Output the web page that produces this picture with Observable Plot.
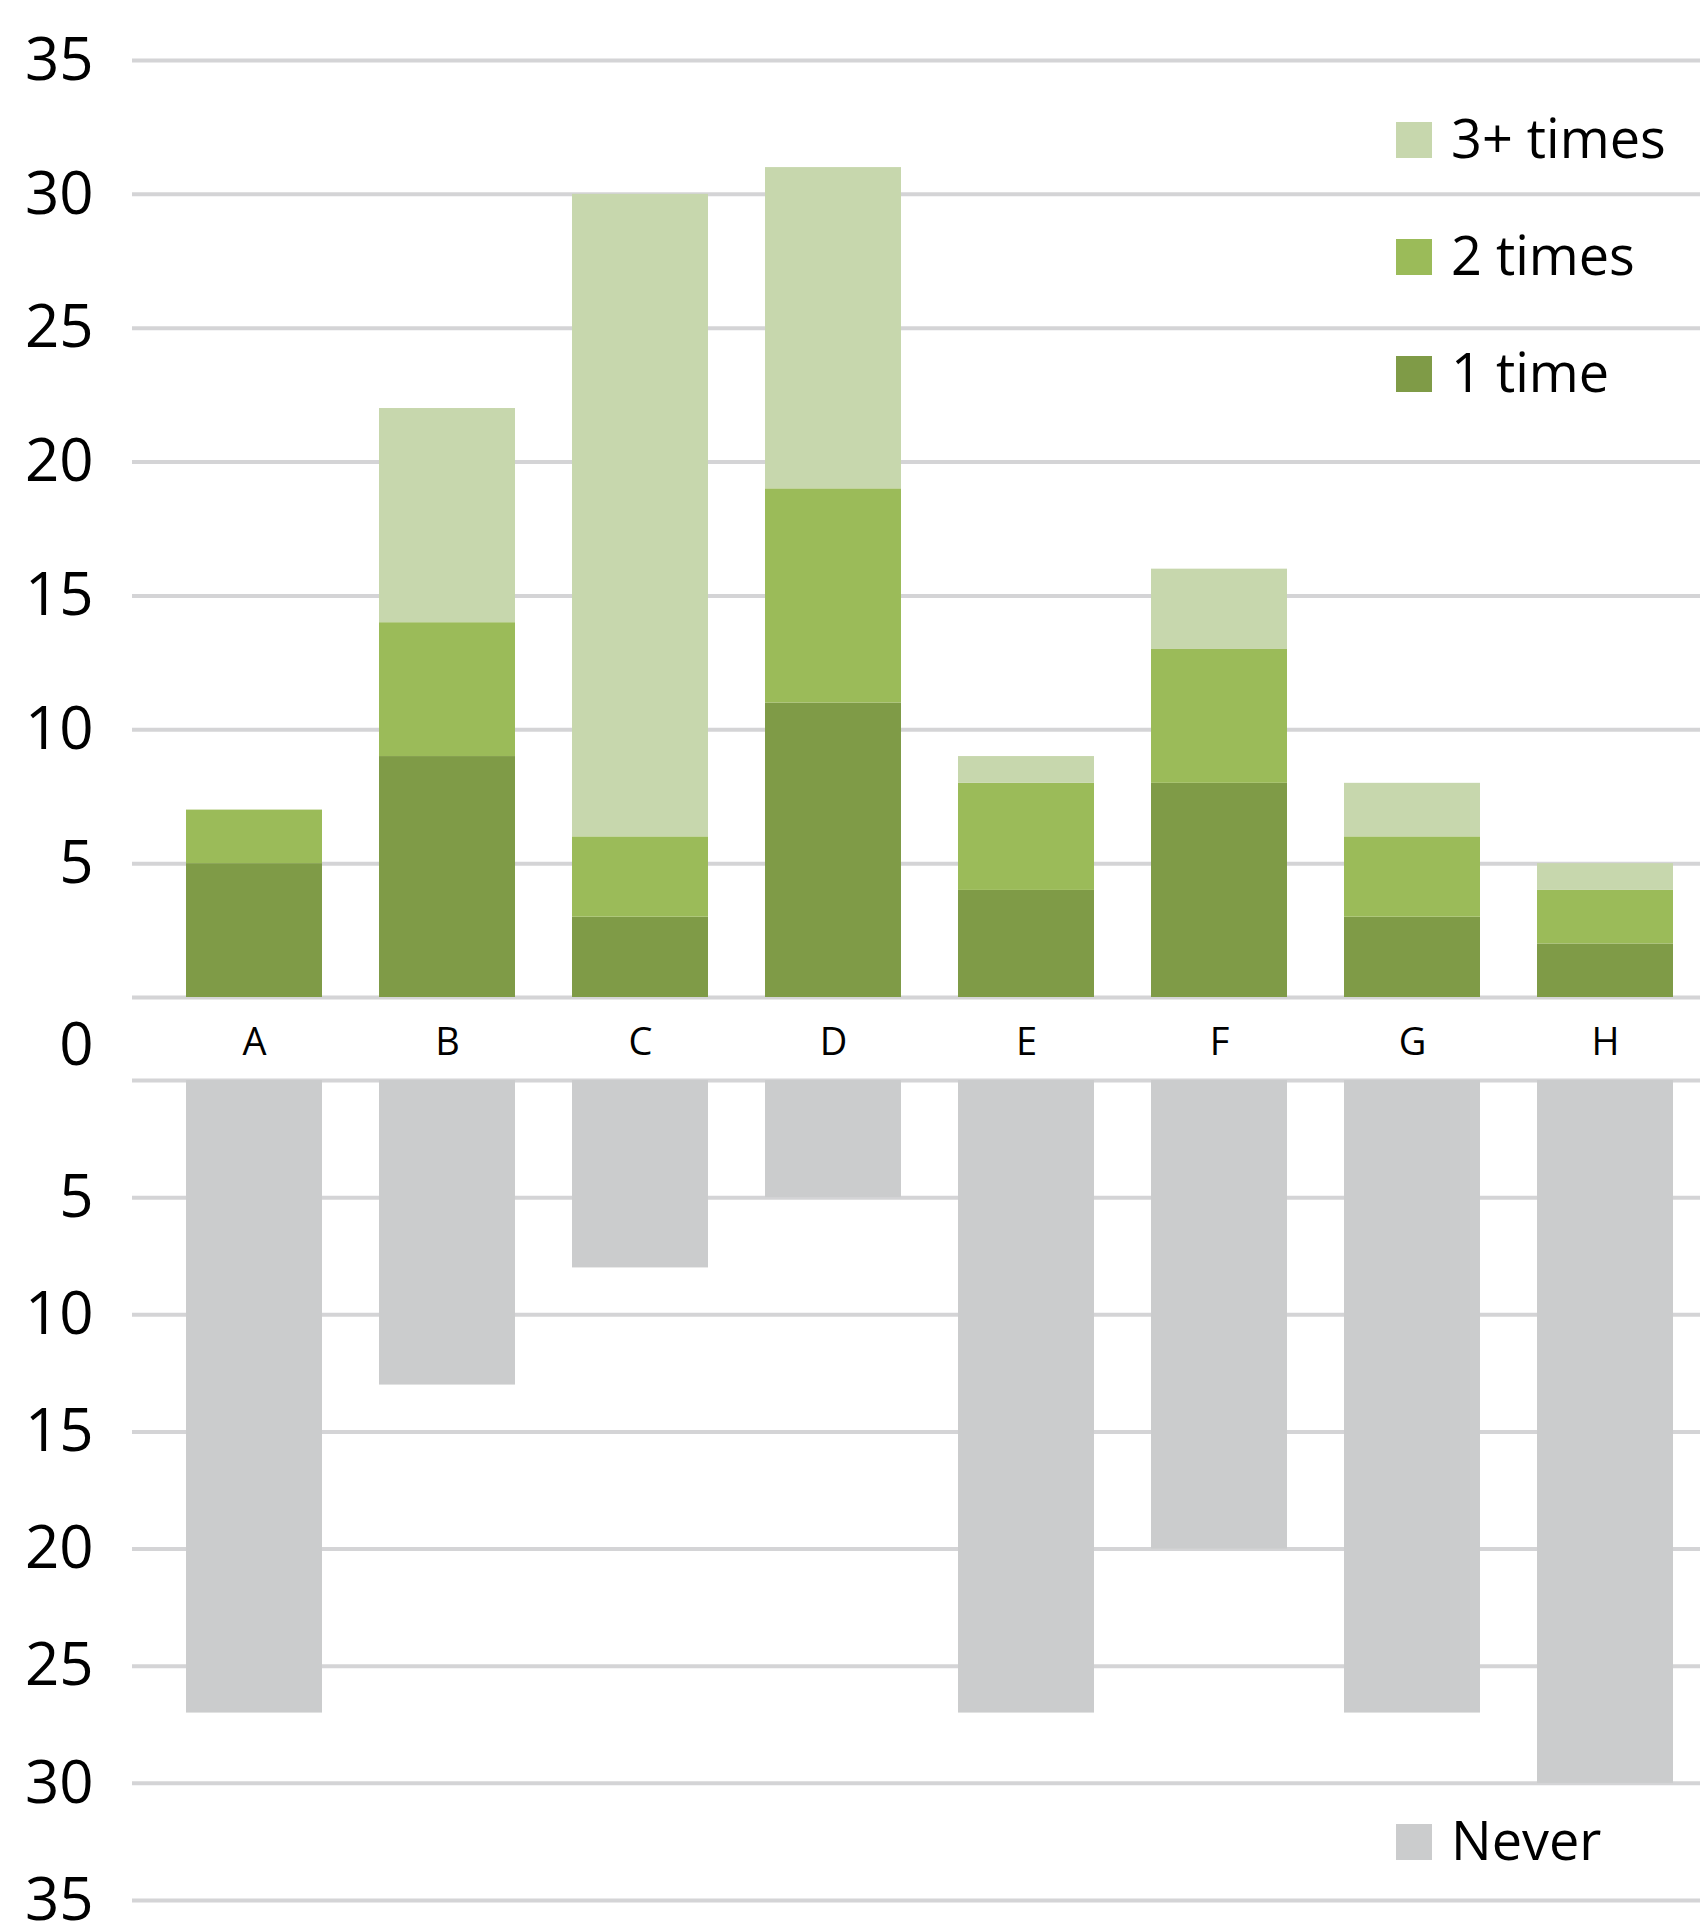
<!DOCTYPE html>
<html>
<head>
<meta charset="utf-8">
<script src="https://cdn.jsdelivr.net/npm/d3@7"></script>
<script src="https://cdn.jsdelivr.net/npm/@observablehq/plot@0.6"></script>
<style>
  html, body { margin: 0; padding: 0; background: #fff; }
  #wrap { position: relative; width: 1700px; height: 1921px; overflow: hidden; font-family: "Open Sans", sans-serif; }
  #top, #bottom { position: absolute; left: 0; }
  #top { top: 0; }
  #bottom { top: 1000px; }
  .legend { position: absolute; left: 1396px; }
  .row { display: flex; align-items: center; height: 36px; margin-bottom: 81px; }
  .sw { width: 36px; height: 36px; margin-right: 19px; flex: none; }
  .lab { font-size: 54px; line-height: 1; color: #000; white-space: nowrap; position: relative; top: -3px; }
</style>
</head>
<body>
<div id="wrap">
  <div id="top"></div>
  <div id="bottom"></div>
  <div class="legend" id="legTop" style="top:122px"></div>
  <div class="legend" id="legBottom" style="top:1824px"></div>
</div>
<script>
// ---- data ----
const categories = ["A", "B", "C", "D", "E", "F", "G", "H"];
const seriesNames = ["1 time", "2 times", "3+ times"];
const seriesColors = ["#7f9b47", "#9bbb59", "#c7d7ad"];
const oneTime   = [5, 9, 3, 11, 4, 8, 3, 2];
const twoTimes  = [2, 5, 3, 8, 4, 5, 3, 2];
const threePlus = [0, 8, 24, 12, 1, 3, 2, 1];
const neverName = "Never";
const neverColor = "#cbcccd";
const never     = [27, 13, 8, 5, 27, 20, 27, 30];
const yTicks = [0, 5, 10, 15, 20, 25, 30, 35];

const gridColor = "#d4d4d6";
const font = "'Open Sans', sans-serif";

const seriesValues = [oneTime, twoTimes, threePlus];
const stackedRows = categories.flatMap((c, i) =>
  seriesNames.map((s, k) => ({cat: c, series: s, value: seriesValues[k][i]}))
);
const neverRows = categories.map((c, i) => ({cat: c, value: never[i]}));

const xScale = {domain: categories, paddingInner: 0.296, paddingOuter: 0.148, insetLeft: 23, insetRight: -3};

const topPlot = Plot.plot({
  width: 1700,
  height: 1000,
  marginLeft: 132,
  marginRight: 0,
  marginTop: 60,
  marginBottom: 3,
  style: {fontFamily: font, color: "#000", background: "transparent", overflow: "visible"},
  x: {...xScale, axis: null},
  y: {domain: [0, 35], axis: null},
  color: {domain: seriesNames, range: seriesColors},
  marks: [
    Plot.ruleY(yTicks, {stroke: gridColor, strokeWidth: 4}),
    Plot.barY(stackedRows, {x: "cat", y: "value", fill: "series"}),
    Plot.axisY(yTicks.filter(d => d > 0), {tickSize: 0, tickPadding: 39, fontSize: 60, fill: "#000", label: null})
  ]
});
document.getElementById("top").appendChild(topPlot);

const bottomPlot = Plot.plot({
  width: 1700,
  height: 921,
  marginLeft: 132,
  marginRight: 0,
  marginTop: 80,
  marginBottom: 21,
  style: {fontFamily: font, color: "#000", background: "transparent", overflow: "visible"},
  x: {...xScale},
  y: {domain: [0, 35], reverse: true, axis: null},
  marks: [
    Plot.ruleY(yTicks, {stroke: gridColor, strokeWidth: 4}),
    Plot.barY(neverRows, {x: "cat", y: "value", fill: neverColor}),
    Plot.axisX({anchor: "top", tickSize: 0, tickPadding: 26, fontSize: 38, fill: "#000", label: null}),
    Plot.axisY(yTicks.filter(d => d > 0), {tickSize: 0, tickPadding: 39, fontSize: 60, fill: "#000", label: null}),
    Plot.axisY([0], {tickSize: 0, tickPadding: 39, fontSize: 60, dy: -35, fill: "#000", label: null})
  ]
});
document.getElementById("bottom").appendChild(bottomPlot);

// ---- legends ----
function legend(el, names, colors) {
  names.forEach((n, i) => {
    const row = document.createElement("div");
    row.className = "row";
    const sw = document.createElement("div");
    sw.className = "sw";
    sw.style.background = colors[i];
    const lab = document.createElement("div");
    lab.className = "lab";
    lab.textContent = n;
    row.appendChild(sw);
    row.appendChild(lab);
    el.appendChild(row);
  });
}
legend(document.getElementById("legTop"), seriesNames.slice().reverse(), seriesColors.slice().reverse());
legend(document.getElementById("legBottom"), [neverName], [neverColor]);
</script>
</body>
</html>
